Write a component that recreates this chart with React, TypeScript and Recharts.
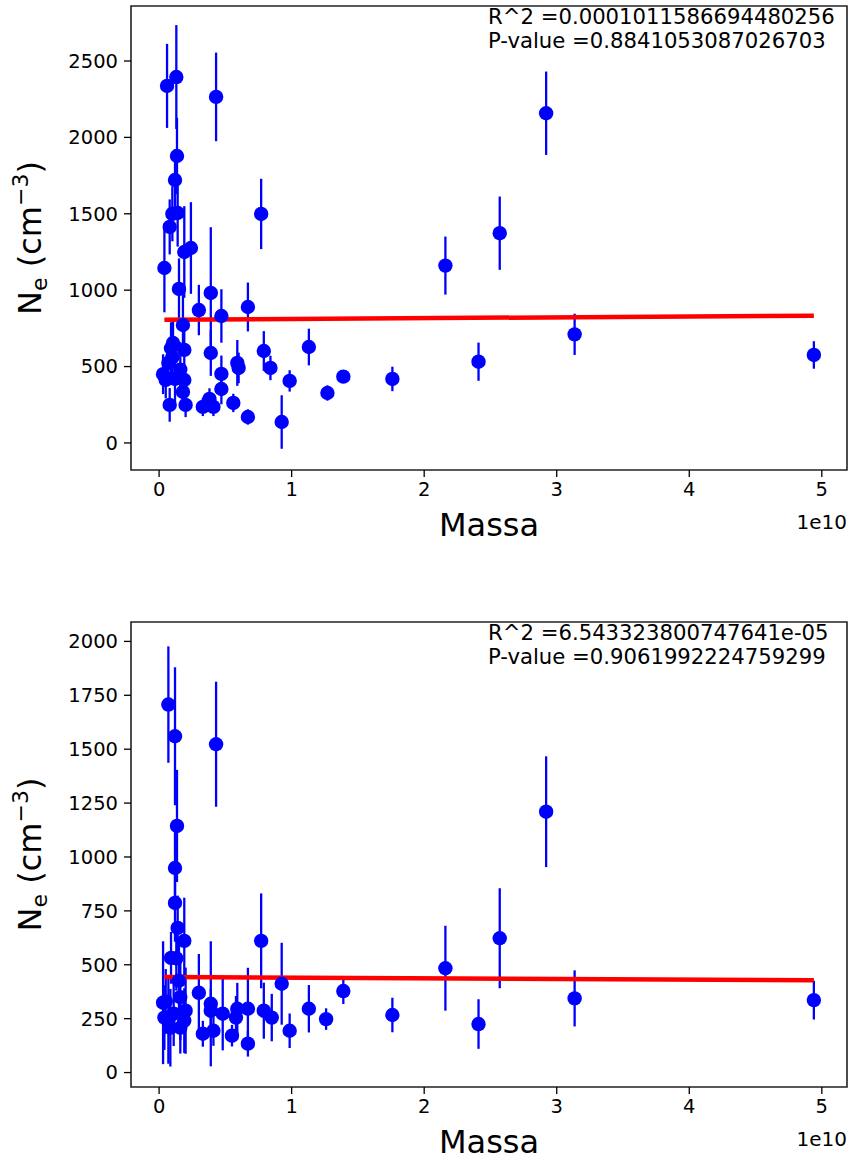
import React from 'react';
import { ScatterChart, Scatter, XAxis, YAxis, ErrorBar, ReferenceArea, Label } from 'recharts';

// ---------- shared ----------
const xTicks = [0, 1, 2, 3, 4, 5];
const xDomain: [number, number] = [-0.212, 5.19];
const xOffsetText = '1e10';
const xLabel = 'Massa';

// ---------- top panel ----------
const yTicksTop = [0, 500, 1000, 1500, 2000, 2500];
const yDomainTop: [number, number] = [-177, 2860];
const massTop = [0.06, 0.13, 0.43, 0.135, 0.12, 0.14, 0.10, 0.08, 0.04, 0.19, 0.24, 0.15, 0.30, 0.39, 0.47, 0.67, 0.77, 0.18, 0.105, 0.19, 0.39, 0.79, 1.13, 0.07, 0.05, 0.19, 0.47, 0.59, 0.60, 0.84, 0.985, 0.18, 0.47, 0.08, 0.20, 0.33, 0.38, 0.41, 0.56, 0.67, 0.925, 1.27, 1.39, 1.76, 2.16, 2.41, 2.57, 2.92, 3.135, 4.94, 0.03, 0.10, 0.12, 0.16, 0.09];
const neTop = [2337, 2395, 2265, 1878, 1721, 1505, 1500, 1414, 1145, 1250, 1276, 1008, 870, 982, 831, 890, 1499, 772, 654, 609, 589, 602, 628, 524, 412, 412, 452, 524, 491, 491, 406, 334, 353, 249, 249, 236, 288, 236, 262, 170, 137, 327, 434, 419, 1161, 532, 1373, 2158, 711, 576, 450, 560, 420, 480, 620];
const errTop = [275, 340, 290, 250, 200, 220, 180, 180, 290, 300, 300, 200, 165, 430, 175, 160, 230, 200, 150, 150, 150, 130, 120, 150, 120, 100, 120, 150, 100, 80, 70, 100, 100, 110, 80, 60, 70, 60, 60, 50, 175, 50, 40, 80, 190, 125, 240, 273, 135, 90, 130, 160, 150, 180, 170];
const fitMass = [0.04, 4.94];
const fitTop = [806, 833];
const statsTop = ['R^2 =0.0001011586694480256', 'P-value =0.8841053087026703'];

// ---------- bottom panel ----------
const yTicksBottom = [0, 250, 500, 750, 1000, 1250, 1500, 1750, 2000];
const yDomainBottom: [number, number] = [-67, 2090];
const massBottom = [0.07, 0.12, 0.43, 0.135, 0.12, 0.12, 0.14, 0.09, 0.19, 0.77, 0.30, 0.925, 0.39, 0.03, 0.15, 0.67, 0.59, 0.79, 1.13, 0.85, 0.58, 0.48, 0.39, 1.26, 0.985, 0.33, 0.41, 0.55, 0.67, 0.04, 0.07, 0.11, 0.19, 0.085, 0.20, 0.16, 1.39, 1.76, 2.16, 2.41, 2.57, 2.92, 3.135, 4.94, 0.05, 0.16, 0.13];
const neBottom = [1707, 1560, 1523, 1144, 949, 787, 671, 532, 611, 611, 370, 412, 319, 324, 426, 296, 296, 287, 296, 255, 255, 273, 287, 248, 194, 180, 194, 171, 134, 255, 241, 273, 241, 208, 287, 208, 378, 267, 484, 225, 623, 1210, 344, 336, 330, 350, 530];
const errBottom = [270, 320, 290, 260, 200, 180, 150, 120, 200, 220, 180, 190, 290, 285, 200, 190, 120, 130, 110, 110, 100, 170, 100, 50, 80, 60, 70, 50, 60, 150, 200, 150, 150, 180, 200, 120, 60, 80, 197, 115, 232, 257, 130, 90, 150, 200, 150];
const fitBottom = [443, 428];
const statsBottom = ['R^2 =6.543323800747641e-05', 'P-value =0.9061992224759299'];

const FONT = 'DejaVu Sans';
const BLUE = '#0000ff';
const RED = '#ff0000';

const XTick = (props: any) => {
  const { x, y, payload } = props;
  return (
    <text x={x} y={y} dy="0.71em" textAnchor="middle" fontSize={19.5} fontFamily={FONT} fill="#000">
      {payload.value}
    </text>
  );
};

const YTick = (props: any) => {
  const { x, y, payload } = props;
  return (
    <text x={x} y={y} dy="0.355em" textAnchor="end" fontSize={19.5} fontFamily={FONT} fill="#000">
      {payload.value}
    </text>
  );
};

const XLabelContent = (props: any) => {
  const { viewBox } = props;
  const cx = viewBox.x + viewBox.width / 2;
  return (
    <g>
      <text x={cx} y={viewBox.y + 66} textAnchor="middle" fontSize={32} fontFamily={FONT} fill="#000">
        {xLabel}
      </text>
      <text x={viewBox.x + viewBox.width} y={viewBox.y + 59} textAnchor="end" fontSize={20} fontFamily={FONT} fill="#000">
        {xOffsetText}
      </text>
    </g>
  );
};

const YLabelContent = (props: any) => {
  const { viewBox } = props;
  const cx = viewBox.x + 41;
  const cy = viewBox.y + viewBox.height / 2;
  return (
    <text
      x={cx}
      y={cy}
      transform={`rotate(-90, ${cx}, ${cy})`}
      textAnchor="middle"
      fontSize={32}
      fontFamily={FONT}
      fill="#000"
    >
      N
      <tspan dy={6} fontSize={22}>e</tspan>
      <tspan dy={-6}> (cm</tspan>
      <tspan dy={-13} fontSize={22}>−3</tspan>
      <tspan dy={13}>)</tspan>
    </text>
  );
};

const makeStats = (lines: string[]) => (props: any) => {
  const { viewBox } = props;
  return (
    <g>
      {lines.map((t, i) => (
        <text key={i} x={viewBox.x + viewBox.width - 359} y={viewBox.y + 18 + i * 24} fontSize={21.2} fontFamily={FONT} fill="#000">
          {t}
        </text>
      ))}
    </g>
  );
};

const Dot = (props: any) => <circle cx={props.cx} cy={props.cy} r={7.2} fill={BLUE} />;
const NoDot = () => <g />;

type PanelProps = {
  mass: number[];
  ne: number[];
  err: number[];
  fit: number[];
  yTicks: number[];
  yDomain: [number, number];
  stats: string[];
  height: number;
  top: number;
  xAxisHeight: number;
};

const Panel = ({ mass, ne, err, fit, yTicks, yDomain, stats, height, top, xAxisHeight }: PanelProps) => {
  const points = mass.map((m, i) => ({ x: m, y: ne[i], err: err[i] }));
  const fitData = fitMass.map((m, i) => ({ x: m, y: fit[i] }));
  return (
    <ScatterChart width={848} height={height} margin={{ top, right: 1, bottom: 0, left: 0 }}>
      <XAxis
        type="number"
        dataKey="x"
        domain={xDomain}
        ticks={xTicks}
        allowDataOverflow
        height={xAxisHeight}
        tick={<XTick />}
        tickSize={7}
        tickMargin={5}
        tickLine={{ stroke: '#000', strokeWidth: 1.3 }}
        axisLine={false}
        interval={0}
      >
        <Label content={<XLabelContent />} />
      </XAxis>
      <YAxis
        type="number"
        dataKey="y"
        domain={yDomain}
        ticks={yTicks}
        allowDataOverflow
        width={131}
        tick={<YTick />}
        tickSize={7}
        tickMargin={6}
        tickLine={{ stroke: '#000', strokeWidth: 1.3 }}
        axisLine={false}
        interval={0}
      >
        <Label content={<YLabelContent />} />
      </YAxis>
      <Scatter
        data={fitData}
        line={{ stroke: RED, strokeWidth: 4.5 }}
        shape={<NoDot />}
        isAnimationActive={false}
      />
      <Scatter data={points} shape={<Dot />} isAnimationActive={false}>
        <ErrorBar dataKey="err" direction="y" width={0} stroke={BLUE} strokeWidth={2.3} isAnimationActive={false} />
      </Scatter>
      <ReferenceArea
        x1={xDomain[0]}
        x2={xDomain[1]}
        y1={yDomain[0]}
        y2={yDomain[1]}
        fill="none"
        stroke="#222"
        strokeWidth={1.6}
      >
        <Label content={makeStats(stats)} />
      </ReferenceArea>
    </ScatterChart>
  );
};

export default function App() {
  return (
    <div style={{ position: 'absolute', left: 0, top: 0, width: 848, height: 1162, background: '#fff' }}>
      <Panel
        mass={massTop}
        ne={neTop}
        err={errTop}
        fit={fitTop}
        yTicks={yTicksTop}
        yDomain={yDomainTop}
        stats={statsTop}
        height={581}
        top={6}
        xAxisHeight={111}
      />
      <Panel
        mass={massBottom}
        ne={neBottom}
        err={errBottom}
        fit={fitBottom}
        yTicks={yTicksBottom}
        yDomain={yDomainBottom}
        stats={statsBottom}
        height={581}
        top={41}
        xAxisHeight={75}
      />
    </div>
  );
}
